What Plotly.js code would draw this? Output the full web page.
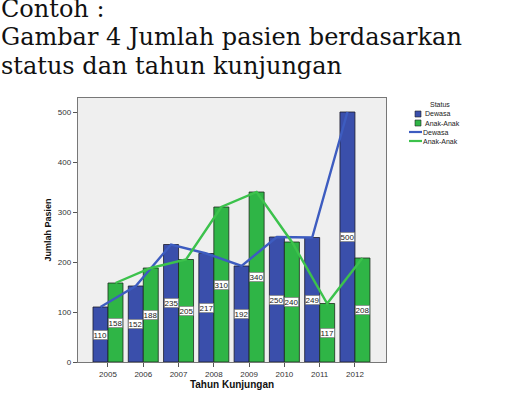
<!DOCTYPE html>
<html>
<head>
<meta charset="utf-8">
<script src="https://cdn.plot.ly/plotly-3.0.1.min.js"></script>
<style>html,body{margin:0;padding:0;background:#fff;}#chart{width:505px;height:398px;}</style>
</head>
<body>
<div id="chart"></div>
<script>
const years = ["2005","2006","2007","2008","2009","2010","2011","2012"];
const dewasa = [110,152,235,217,192,250,249,500];
const anak = [158,188,205,310,340,240,117,208];
const seriesNames = ["Dewasa", "Anak-Anak"];
const legendTitle = "Status";
const titleLines = ["Contoh :", "Gambar 4 Jumlah pasien berdasarkan", "status dan tahun kunjungan"];

const blueBar = "#3a4fab", greenBar = "#2fb546";
const blueLine = "#3d5cc0", greenLine = "#3cc24c";
const sans = "Liberation Sans, Arial, sans-serif";

const L = 78, T = 98, R = 386, B = 362;
const PW = R - L, PH = B - T;
const px = x => (x - L) / PW;
const py = y => (B - y) / PH;

const traces = [
  {type:"bar", name:seriesNames[0], x:years, y:dewasa, offsetgroup:"a", alignmentgroup:"g",
   marker:{color:blueBar, line:{color:"#1c1c2c", width:0.8}}, hoverinfo:"skip"},
  {type:"bar", name:seriesNames[1], x:years, y:anak, offsetgroup:"b", alignmentgroup:"g",
   marker:{color:greenBar, line:{color:"#1c2c1c", width:0.8}}, hoverinfo:"skip"},
  {type:"scatter", mode:"lines", name:seriesNames[0], x:years, y:dewasa, offsetgroup:"a", alignmentgroup:"g",
   line:{color:blueLine, width:2.4}},
  {type:"scatter", mode:"lines", name:seriesNames[1], x:years, y:anak, offsetgroup:"b", alignmentgroup:"g",
   line:{color:greenLine, width:2.4}}
];

const annotations = [];
const lblFont = () => ({family:sans, size:8, color:"#222"});
years.forEach((yr, i) => {
  annotations.push({x:i, y:dewasa[i]/2, xref:"x", yref:"y", text:String(dewasa[i]), showarrow:false,
    xshift:-7.5, bgcolor:"#ffffff", bordercolor:"#666", borderwidth:0.6, borderpad:0, font:lblFont()});
  annotations.push({x:i, y:anak[i]/2, xref:"x", yref:"y", text:String(anak[i]), showarrow:false,
    xshift:7.5, bgcolor:"#ffffff", bordercolor:"#666", borderwidth:0.6, borderpad:0, font:lblFont()});
});
const titleCenters = [9, 37, 66];
titleLines.forEach((t, i) => {
  annotations.push({x:px(-1), y:py(titleCenters[i]), xref:"paper", yref:"paper", xanchor:"left", yanchor:"middle",
    text:t, showarrow:false, font:{family:"DejaVu Serif, serif", size:24, color:"#111"}});
});

// legend (compact, as in the reference)
const legFont = {family:sans, size:7, color:"#222"};
const shapes = [];
annotations.push({x:px(440), y:py(104), xref:"paper", yref:"paper", xanchor:"center", yanchor:"middle",
  text:legendTitle, showarrow:false, font:legFont});
const sqRows = [[111, 117, blueBar], [120, 126, greenBar]];
sqRows.forEach((r, i) => {
  shapes.push({type:"rect", xref:"paper", yref:"paper", x0:px(415), x1:px(421), y0:py(r[1]), y1:py(r[0]),
    fillcolor:r[2], line:{color:"#222", width:0.6}});
  annotations.push({x:px(423), y:py((r[0]+r[1])/2), xref:"paper", yref:"paper", xanchor:"left", yanchor:"middle",
    text:seriesNames[i], showarrow:false, font:legFont});
});
const lnRows = [[132, blueLine], [141, greenLine]];
lnRows.forEach((r, i) => {
  shapes.push({type:"line", xref:"paper", yref:"paper", x0:px(409), x1:px(422), y0:py(r[0]), y1:py(r[0]),
    line:{color:r[1], width:2.2}});
  annotations.push({x:px(421), y:py(r[0]), xref:"paper", yref:"paper", xanchor:"left", yanchor:"middle",
    text:seriesNames[i], showarrow:false, font:legFont});
});

const layout = {
  width:505, height:398,
  margin:{l:L, r:505-R, t:T, b:398-B, pad:0},
  paper_bgcolor:"#ffffff", plot_bgcolor:"#efefef",
  barmode:"group", bargap:0.15, bargroupgap:0,
  scattermode:"group", scattergap:0.15,
  showlegend:false,
  xaxis:{type:"category", range:[-0.85, 7.88], showgrid:false, zeroline:false,
    showline:true, linecolor:"#777", linewidth:1.2, mirror:true,
    ticks:"outside", ticklen:4, tickcolor:"#555",
    tickfont:{family:sans, size:8, color:"#333"},
    title:{text:"Tahun Kunjungan", standoff:3,
      font:{family:sans, size:10, color:"#111", weight:"bold"}}},
  yaxis:{range:[0, 528], showgrid:false, zeroline:false, dtick:100,
    showline:true, linecolor:"#777", linewidth:1.2, mirror:true,
    ticks:"outside", ticklen:4, tickcolor:"#555",
    tickfont:{family:sans, size:8, color:"#333"},
    title:{text:"Jumlah Pasien", standoff:4,
      font:{family:sans, size:9, color:"#111", weight:"bold"}}},
  shapes:shapes,
  annotations:annotations
};

Plotly.newPlot("chart", traces, layout, {displayModeBar:false, staticPlot:true});
</script>
</body>
</html>
